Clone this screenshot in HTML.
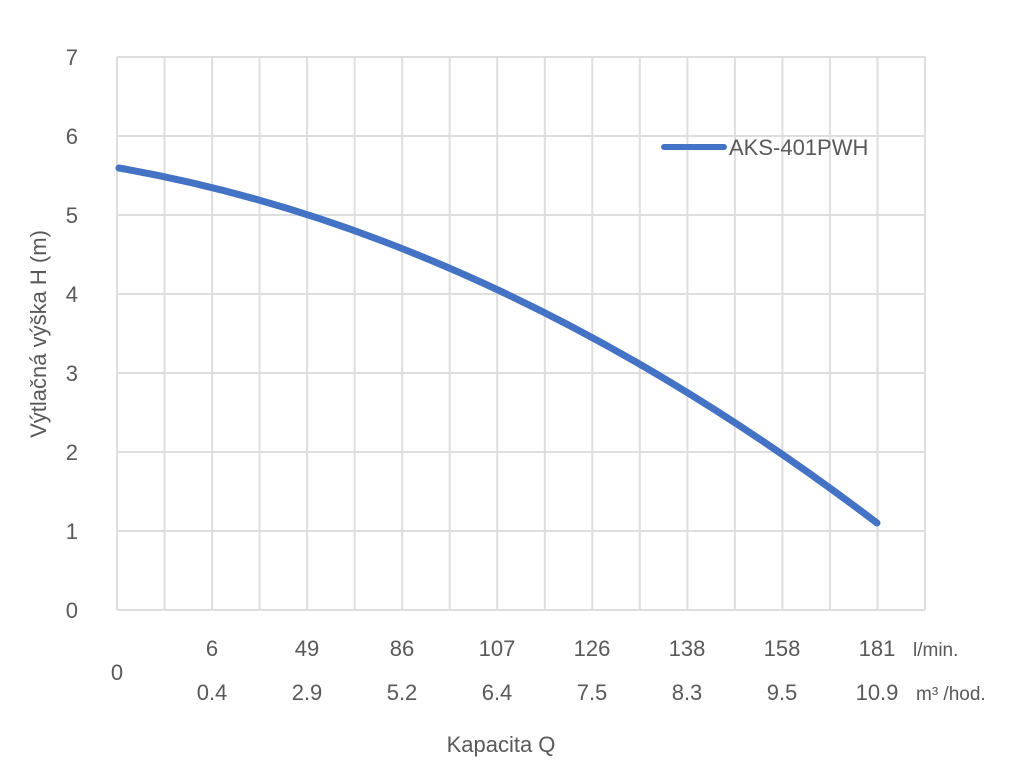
<!DOCTYPE html>
<html><head><meta charset="utf-8"><style>
body{margin:0;background:#fff;}
svg{display:block;}
text{font-family:"Liberation Sans","DejaVu Sans",sans-serif;fill:#595959;}
</style></head><body>
<svg width="1024" height="768" viewBox="0 0 1024 768">
<g stroke="#dedede" stroke-width="2">
<line x1="117" y1="57" x2="925" y2="57"/>
<line x1="117" y1="136" x2="925" y2="136"/>
<line x1="117" y1="215" x2="925" y2="215"/>
<line x1="117" y1="294" x2="925" y2="294"/>
<line x1="117" y1="373" x2="925" y2="373"/>
<line x1="117" y1="452" x2="925" y2="452"/>
<line x1="117" y1="531" x2="925" y2="531"/>
<line x1="117" y1="610" x2="925" y2="610"/>
<line x1="117.0" y1="57" x2="117.0" y2="610"/><line x1="164.5" y1="57" x2="164.5" y2="610"/><line x1="212.1" y1="57" x2="212.1" y2="610"/><line x1="259.6" y1="57" x2="259.6" y2="610"/><line x1="307.1" y1="57" x2="307.1" y2="610"/><line x1="354.6" y1="57" x2="354.6" y2="610"/><line x1="402.2" y1="57" x2="402.2" y2="610"/><line x1="449.7" y1="57" x2="449.7" y2="610"/><line x1="497.2" y1="57" x2="497.2" y2="610"/><line x1="544.8" y1="57" x2="544.8" y2="610"/><line x1="592.3" y1="57" x2="592.3" y2="610"/><line x1="639.8" y1="57" x2="639.8" y2="610"/><line x1="687.4" y1="57" x2="687.4" y2="610"/><line x1="734.9" y1="57" x2="734.9" y2="610"/><line x1="782.4" y1="57" x2="782.4" y2="610"/><line x1="829.9" y1="57" x2="829.9" y2="610"/><line x1="877.5" y1="57" x2="877.5" y2="610"/><line x1="925.0" y1="57" x2="925.0" y2="610"/>
</g>
<g font-size="22" text-anchor="end">
<text x="78" y="65">7</text><text x="78" y="144">6</text><text x="78" y="223">5</text><text x="78" y="302">4</text><text x="78" y="381">3</text><text x="78" y="460">2</text><text x="78" y="539">1</text><text x="78" y="618">0</text>
</g>
<text transform="translate(46,334) rotate(-90)" font-size="22" text-anchor="middle">Výtlačná výška H (m)</text>
<path d="M119,168 Q497,234 877,523" fill="none" stroke="#4472c4" stroke-width="7" stroke-linecap="round"/>
<line x1="664" y1="147" x2="724" y2="147" stroke="#4472c4" stroke-width="6" stroke-linecap="round"/>
<text x="729" y="155" font-size="22">AKS-401PWH</text>
<g font-size="22" text-anchor="middle">
<text x="117" y="680">0</text>
<text x="212" y="656">6</text><text x="307" y="656">49</text><text x="402" y="656">86</text><text x="497" y="656">107</text><text x="592" y="656">126</text><text x="687" y="656">138</text><text x="782" y="656">158</text><text x="877" y="656">181</text>
<text x="212" y="700">0.4</text><text x="307" y="700">2.9</text><text x="402" y="700">5.2</text><text x="497" y="700">6.4</text><text x="592" y="700">7.5</text><text x="687" y="700">8.3</text><text x="782" y="700">9.5</text><text x="877" y="700">10.9</text>
</g>
<text x="913" y="656" font-size="19">l/min.</text>
<text x="916" y="700" font-size="19">m³ /hod.</text>
<text x="501" y="752" font-size="22" text-anchor="middle">Kapacita Q</text>
</svg>
</body></html>
